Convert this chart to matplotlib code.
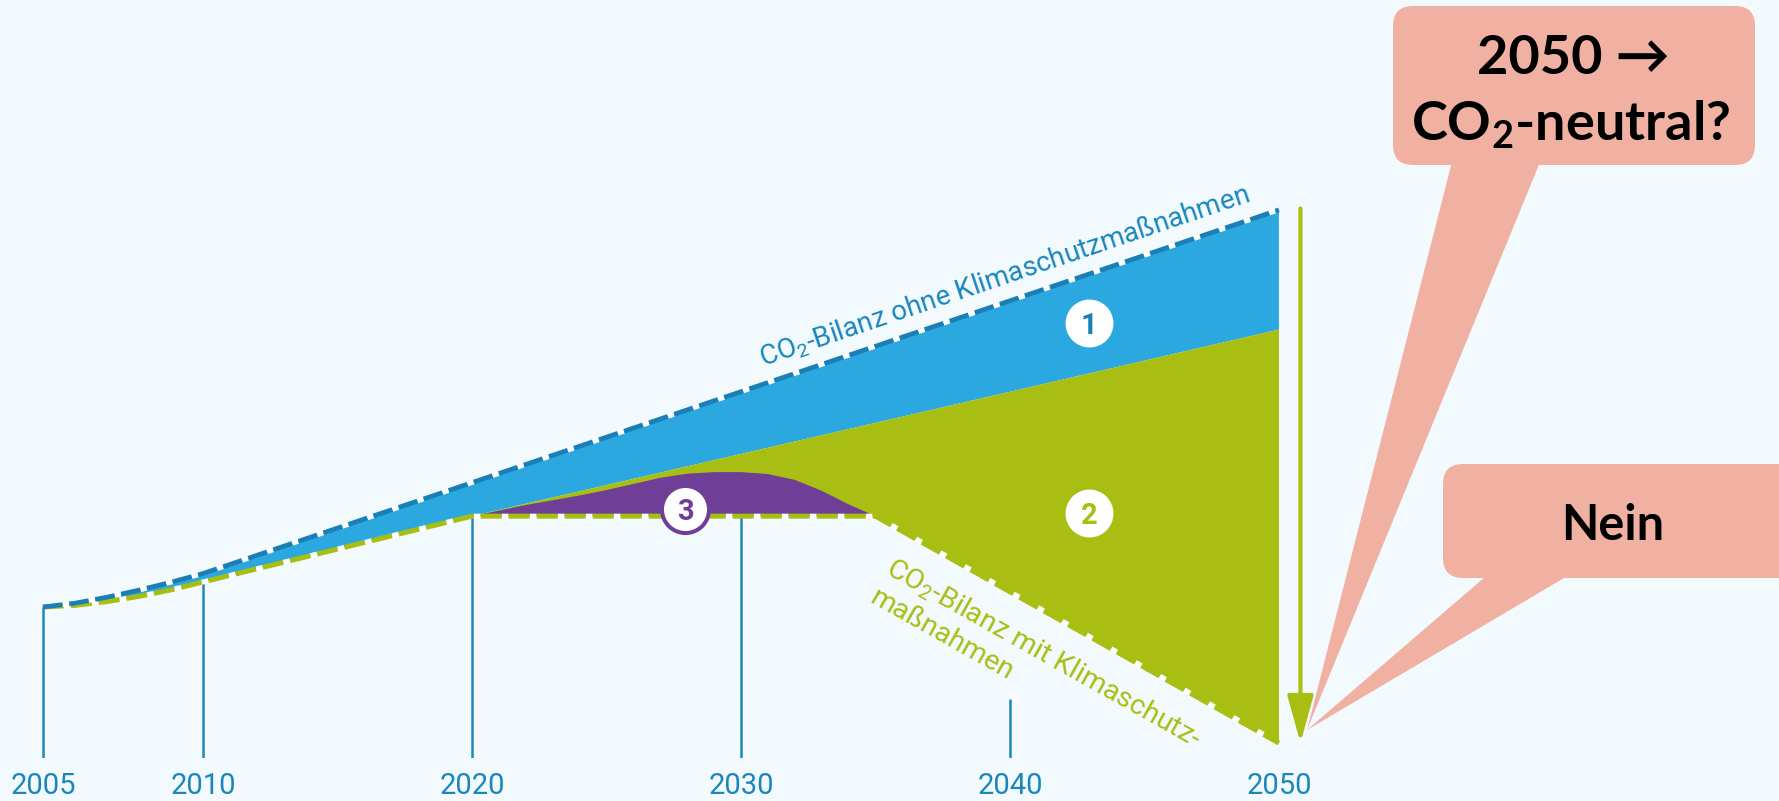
import numpy as np
import matplotlib.pyplot as plt
from matplotlib.patches import FancyBboxPatch, Polygon

plt.rcParams['mathtext.fontset'] = 'custom'
plt.rcParams['mathtext.rm'] = 'Roboto'
plt.rcParams['mathtext.bf'] = 'Lato:bold'

# CO2-Bilanz (Index 2005 = 100)
jahre_ohne = [2005, 2006, 2007, 2008, 2009, 2010, 2050]
co2_ohne = [100, 102.8, 107.2, 112.4, 118.2, 124.6, 392]

jahre_mit = [2005, 2006, 2007, 2008, 2009, 2010, 2015, 2020, 2035, 2050]
co2_mit = [100, 101.2, 104, 107.8, 112.6, 118.4, 142.6, 166.8, 166.8, 0]

# Grenze zwischen Bereich 1 und 2
jahre_mitte = [2020, 2050]
co2_mitte = [166.8, 304]

# Bereich 3 (Oberkante)
jahre_3 = [2020, 2022, 2024, 2025, 2026, 2027, 2028, 2029, 2030, 2031, 2032, 2033, 2034, 2035]
co2_3 = [166.8, 175, 182, 186, 190.5, 195, 198, 199.2, 199.2, 197.8, 193.5, 185.5, 175.5, 166.8]

tick_jahre = [2005, 2010, 2020, 2030, 2040, 2050]
tick_oben = [100, 118.4, 166.8, 166.8, 32.4]

bg = '#f3fafd'
blau = '#2ba8e0'
blau_dunkel = '#1b7fb6'
text_blau = '#1a86bd'
gruen = '#a9be13'
lila = '#6f3f98'
lachs = '#f0b1a2'


def fwd(x):
    x = np.asarray(x, dtype=float)
    return np.where(x < 2010, 2010 + (x - 2010) * 1.19, x)


def inv(x):
    x = np.asarray(x, dtype=float)
    return np.where(x < 2010, 2010 + (x - 2010) / 1.19, x)


fig = plt.figure(figsize=(17.79, 8.01), dpi=100, facecolor=bg)
ax = fig.add_axes([0, 1 - 758 / 801, 1, 758 / 801])
ax.set_facecolor(bg)
ax.set_xscale('function', functions=(fwd, inv))
ax.set_xlim(2003.66, 2068.59)
ax.set_ylim(-11, 546.3)
for s in ax.spines.values():
    s.set_visible(False)
ax.set_yticks([])

# Flaechen
x1 = jahre_ohne + jahre_mitte[::-1] + [j for j in jahre_mit if j < 2020][::-1]
y1 = co2_ohne + co2_mitte[::-1] + [c for j, c in zip(jahre_mit, co2_mit) if j < 2020][::-1]
ax.fill(x1, y1, color=blau, lw=0, zorder=1)

x2 = jahre_mitte + [j for j in jahre_mit if j >= 2020][::-1]
y2 = co2_mitte + [c for j, c in zip(jahre_mit, co2_mit) if j >= 2020][::-1]
ax.fill(x2, y2, color=gruen, lw=0, zorder=1)

ax.fill(jahre_3, co2_3, color=lila, lw=0, zorder=2)

# Linien
ax.plot(jahre_mit, co2_mit, color=gruen, lw=3.6, ls=(0, (4.2, 1.4)), gapcolor='white',
        solid_capstyle='butt', zorder=3)
ax.plot(jahre_ohne, co2_ohne, color=blau_dunkel, lw=3.4, ls=(0, (4.2, 1.4)), gapcolor='white',
        solid_capstyle='butt', zorder=4)

ax.vlines(tick_jahre[:-1], -11, tick_oben, color='#1f87ba', lw=1.8, zorder=2)
ax.set_xticks(tick_jahre, [str(j) for j in tick_jahre])
ax.tick_params(axis='x', length=0, pad=10, labelsize=21, labelcolor=text_blau)
for lab in ax.get_xticklabels():
    lab.set_family('Roboto')

# Pfeil 2050
ax.annotate('', xy=(2050.8, 0), xytext=(2050.8, 393),
            arrowprops=dict(arrowstyle='-|>,head_length=2.9,head_width=0.8',
                            color=gruen, lw=3.0, shrinkA=0, shrinkB=0), zorder=5)

# Nummern
ax.scatter([2042.94, 2042.94], [308.8, 169], s=1190, c='white', lw=0, zorder=6)
ax.scatter([2027.92], [172], s=1150, c='white', edgecolors=lila, lw=2.9, zorder=6)
for x, y, t, c in [(2042.94, 308.8, '1', blau_dunkel), (2042.94, 169, '2', gruen),
                   (2027.92, 172, '3', lila)]:
    ax.text(x, y, t, ha='center', va='center_baseline', fontsize=21, fontweight='bold',
            family='Roboto', color=c, zorder=7)

# Beschriftungen der Linien
ang1 = np.degrees(np.arctan((392 - 124.6) * 1.36 / (40 * 26.9)))
ax.text(2030.8, 277, 'CO$_2$-Bilanz ohne Klimaschutzmaßnahmen', rotation=ang1,
        rotation_mode='anchor', ha='left', va='baseline', fontsize=20,
        family='Roboto', color=text_blau, zorder=5)
ang2 = np.degrees(np.arctan(166.8 * 1.36 / (15 * 26.9)))
ax.text(2035.75, 140, 'CO$_2$-Bilanz mit Klimaschutz-\nmaßnahmen', rotation=-ang2,
        rotation_mode='anchor', ha='left', va='top', fontsize=20.5,
        family='Roboto', color=gruen, linespacing=1.3, zorder=5)

# Sprechblasen (Pixelkoordinaten)
ov = fig.add_axes([0, 0, 1, 1], zorder=10)
ov.set_xlim(0, 1779)
ov.set_ylim(801, 0)
ov.axis('off')
ov.patch.set_alpha(0)

ov.add_patch(Polygon([(1455, 150), (1545, 150), (1307, 730)], closed=True, color=lachs, lw=0))
ov.add_patch(FancyBboxPatch((1393, 6), 362, 159, boxstyle='round,pad=0,rounding_size=20',
                            color=lachs, lw=0))
ov.add_patch(Polygon([(1499, 565), (1586, 565), (1307, 730)], closed=True, color=lachs, lw=0))
ov.add_patch(FancyBboxPatch((1443, 464), 360, 114, boxstyle='round,pad=0,rounding_size=20',
                            color=lachs, lw=0))

ov.text(1573, 74, '2050 →', ha='center', va='baseline', fontsize=39, fontweight='bold',
        family=['Lato', 'DejaVu Sans'], color='black')
ov.text(1571, 140, 'CO$_\\mathbf{2}$-neutral?', ha='center', va='baseline', fontsize=39,
        fontweight='bold', family=['Lato', 'DejaVu Sans'], color='black')
ov.text(1613, 540, 'Nein', ha='center', va='baseline', fontsize=35, fontweight='bold',
        family=['Lato', 'DejaVu Sans'], color='black')

fig.savefig('out.png', dpi=100, facecolor=bg)
